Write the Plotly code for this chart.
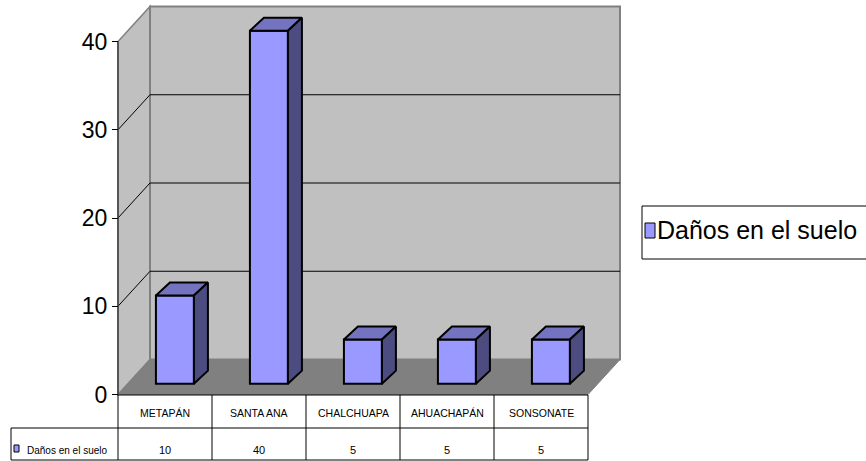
import plotly.graph_objects as go

# ---- data -------------------------------------------------------------
categories = ["METAPÁN", "SANTA ANA", "CHALCHUAPA", "AHUACHAPÁN", "SONSONATE"]
series_name = "Daños en el suelo"
values = [10, 40, 5, 5, 5]
y_ticks = [0, 10, 20, 30, 40]
y_max = 40

# ---- page / scale geometry (pixels) -----------------------------------
W, H = 866, 461
PX0, PXU = 118, 94.0        # x pixel of category edge 0, pixels per category
PY0, PYU = 394.5, 8.825     # y pixel of value 0, pixels per value unit
WALL_DEPTH_PX = (32, 35)    # depth offset of the back wall (right, up)
BAR_FRONT_FRAC = 0.31       # bar front face position inside the depth
BAR_DEPTH_PX = (14, 13)     # depth of each bar
BAR_WIDTH_PX = 38

FRONT = "#9999FF"
TOP = "#7373BF"
SIDE = "#4C4C80"
WALL = "#C0C0C0"
FLOOR = "#808080"
EDGE = "#808080"
FONT = "Liberation Sans, Arial, sans-serif"

n = len(categories)
x_range = [(0 - PX0) / PXU, (W - PX0) / PXU]
y_range = [(PY0 - H) / PYU, PY0 / PYU]

dx_wall = WALL_DEPTH_PX[0] / PXU
dy_wall = WALL_DEPTH_PX[1] / PYU
dx_bar = BAR_DEPTH_PX[0] / PXU
dy_bar = BAR_DEPTH_PX[1] / PYU
bar_w = BAR_WIDTH_PX / PXU
f_dx = BAR_FRONT_FRAC * dx_wall
f_dy = BAR_FRONT_FRAC * dy_wall


def pxx(p):
    return p / W


def pyy(p):
    return 1 - p / H


def xpix(p):
    return (p - PX0) / PXU


fig = go.Figure()

# ---- bars: front faces ------------------------------------------------
centers = [i + 0.5 + f_dx for i in range(n)]
fig.add_trace(go.Bar(
    x=centers, y=values, base=[f_dy] * n, width=bar_w,
    marker=dict(color=FRONT, line=dict(color="black", width=2)),
    name=series_name, showlegend=False, hoverinfo="skip",
))

# ---- bars: top and side faces -----------------------------------------
for c, v in zip(centers, values):
    xl, xr = c - bar_w / 2, c + bar_w / 2
    b, t = f_dy, f_dy + v
    fig.add_trace(go.Scatter(
        x=[xl, xr, xr + dx_bar, xl + dx_bar, xl],
        y=[t, t, t + dy_bar, t + dy_bar, t],
        mode="lines", fill="toself", fillcolor=TOP,
        line=dict(color="black", width=2), showlegend=False, hoverinfo="skip",
    ))
    fig.add_trace(go.Scatter(
        x=[xr, xr, xr + dx_bar, xr + dx_bar, xr],
        y=[b, t, t + dy_bar, b + dy_bar, b],
        mode="lines", fill="toself", fillcolor=SIDE,
        line=dict(color="black", width=2), showlegend=False, hoverinfo="skip",
    ))

shapes = []

# ---- walls and floor ---------------------------------------------------
shapes.append(dict(
    type="path", xref="x", yref="y", layer="below",
    path=f"M 0 0 L 0 {y_max} L {dx_wall} {y_max + dy_wall} L {dx_wall} {dy_wall} Z",
    fillcolor=WALL, line=dict(color=EDGE, width=1.5),
))
shapes.append(dict(
    type="rect", xref="x", yref="y", layer="below",
    x0=dx_wall, x1=n + dx_wall, y0=dy_wall, y1=y_max + dy_wall,
    fillcolor=WALL, line=dict(color=EDGE, width=2),
))
shapes.append(dict(
    type="path", xref="x", yref="y", layer="below",
    path=f"M 0 0 L {n} 0 L {n + dx_wall} {dy_wall} L {dx_wall} {dy_wall} Z",
    fillcolor=FLOOR, line=dict(color=FLOOR, width=1),
))
for v in y_ticks[1:-1]:
    shapes.append(dict(type="line", xref="x", yref="y", layer="below",
                       x0=dx_wall, x1=n + dx_wall, y0=v + dy_wall, y1=v + dy_wall,
                       line=dict(color="black", width=1)))
    shapes.append(dict(type="line", xref="x", yref="y", layer="below",
                       x0=0, x1=dx_wall, y0=v, y1=v + dy_wall,
                       line=dict(color="black", width=1)))
# value axis line
shapes.append(dict(type="line", xref="x", yref="y", layer="below",
                   x0=0, x1=0, y0=0, y1=y_max,
                   line=dict(color="#404040", width=1.5)))

# ---- data table ----------------------------------------------------------
T_TOP, T_MID, T_BOT = 395, 428, 460
LEFT_CELL = xpix(11)
line_k = dict(color="black", width=1)
shapes.append(dict(type="line", xref="x", yref="paper", x0=0, x1=n,
                   y0=pyy(T_TOP), y1=pyy(T_TOP), line=line_k))
for yy in (T_MID, T_BOT):
    shapes.append(dict(type="line", xref="x", yref="paper", x0=LEFT_CELL, x1=n,
                       y0=pyy(yy), y1=pyy(yy), line=line_k))
for i in range(n + 1):
    shapes.append(dict(type="line", xref="x", yref="paper", x0=i, x1=i,
                       y0=pyy(T_TOP), y1=pyy(T_BOT), line=line_k))
shapes.append(dict(type="line", xref="x", yref="paper", x0=LEFT_CELL, x1=LEFT_CELL,
                   y0=pyy(T_MID), y1=pyy(T_BOT), line=line_k))
# series key inside the table
shapes.append(dict(type="rect", xref="paper", yref="paper",
                   x0=pxx(14), x1=pxx(19), y0=pyy(452), y1=pyy(445),
                   fillcolor=FRONT, line=dict(color="black", width=1)))

# ---- legend box ---------------------------------------------------------
shapes.append(dict(type="rect", xref="paper", yref="paper",
                   x0=pxx(642), x1=pxx(875), y0=pyy(259), y1=pyy(206),
                   fillcolor="white", line=dict(color="black", width=1)))
shapes.append(dict(type="rect", xref="paper", yref="paper",
                   x0=pxx(645), x1=pxx(655), y0=pyy(238), y1=pyy(223),
                   fillcolor=FRONT, line=dict(color="black", width=1)))

annotations = []
for i, (cat, v) in enumerate(zip(categories, values)):
    annotations.append(dict(x=i + 0.5, y=pyy(413), xref="x", yref="paper",
                            text=cat, showarrow=False, xanchor="center", yanchor="middle",
                            font=dict(family=FONT, size=10.5, color="black")))
    annotations.append(dict(x=i + 0.5, y=pyy(450), xref="x", yref="paper",
                            text=str(v), showarrow=False, xanchor="center", yanchor="middle",
                            font=dict(family=FONT, size=11, color="black")))
annotations.append(dict(x=pxx(25), y=pyy(450), xref="paper", yref="paper",
                        text=series_name, showarrow=False, xanchor="left", yanchor="middle",
                        font=dict(family=FONT, size=10, color="black")))
annotations.append(dict(x=pxx(655), y=pyy(230), xref="paper", yref="paper",
                        text=series_name, showarrow=False, xanchor="left", yanchor="middle",
                        font=dict(family=FONT, size=25, color="black")))

fig.update_layout(
    width=W, height=H,
    margin=dict(l=0, r=0, t=0, b=0),
    paper_bgcolor="white", plot_bgcolor="white",
    showlegend=False,
    barmode="overlay",
    shapes=shapes,
    annotations=annotations,
    xaxis=dict(range=x_range, visible=False, fixedrange=True),
    yaxis=dict(
        range=y_range, anchor="free", position=PX0 / W, side="left",
        tickmode="array", tickvals=y_ticks, ticktext=[str(t) for t in y_ticks],
        ticks="outside", ticklen=6, tickwidth=1, tickcolor="black",
        showgrid=False, zeroline=False, showline=False,
        tickfont=dict(family=FONT, size=23, color="black"),
        fixedrange=True,
    ),
)

fig.write_html("out.html")
